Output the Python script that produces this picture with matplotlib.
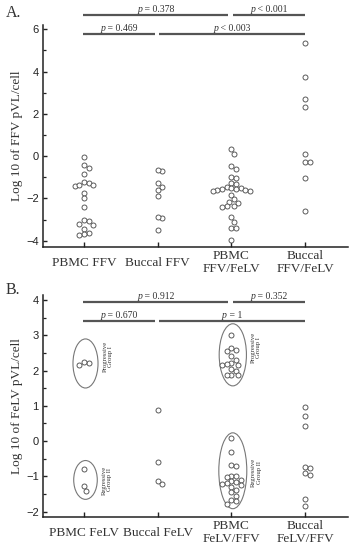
import numpy as np
import matplotlib
matplotlib.use('Agg')
import matplotlib.pyplot as plt
from matplotlib.patches import Ellipse
from matplotlib.ticker import MultipleLocator
from matplotlib.offsetbox import TextArea, HPacker, AnnotationBbox

plt.rcParams['font.family'] = ['Liberation Serif', 'DejaVu Serif']

# ---------------- data ----------------
cats_a = ['PBMC FFV', 'Buccal FFV', 'PBMC\nFFV/FeLV', 'Buccal\nFFV/FeLV']
pbmc_ffv = [-0.03, -0.42, -0.58, -0.86, -1.22, -1.25, -1.38, -1.40, -1.35, -1.73,
            -1.98, -2.40, -3.03, -3.07, -3.20, -3.25, -3.45, -3.62, -3.70, -3.75]
buccal_ffv = [-0.70, -0.64, -1.27, -1.45, -1.60, -1.88, -2.95, -2.90, -3.50]
pbmc_ffv_felv = [0.32, 0.10, -0.47, -0.62, -0.98, -1.02, -1.28, -1.32, -1.45, -1.50,
                 -1.52, -1.58, -1.62, -1.63, -1.65, -1.60, -1.55, -1.85, -2.05, -2.18,
                 -2.22, -2.35, -2.38, -2.40, -2.90, -3.12, -3.38, -3.42, -3.95]
buccal_ffv_felv = [5.33, 3.73, 2.72, 2.30, 0.12, -0.28, -0.30, -1.06, -2.62]

cats_b = ['PBMC FeLV', 'Buccal FeLV', 'PBMC\nFeLV/FFV', 'Buccal\nFeLV/FFV']
pbmc_felv_prog = [2.15, 2.22, 2.25]
pbmc_felv_reg = [-0.80, -1.28, -1.40]
buccal_felv = [0.88, -0.60, -1.13, -1.22]
pbmc_felv_ffv_prog = [3.02, 2.63, 2.55, 2.58, 2.40, 2.30, 2.22, 2.17, 2.15, 2.18,
                      2.03, 2.00, 1.88, 1.87, 1.88]
pbmc_felv_ffv_reg = [0.10, -0.30, -0.68, -0.70, -0.98, -1.00, -1.02, -1.10, -1.12,
                     -1.15, -1.20, -1.22, -1.25, -1.30, -1.38, -1.45, -1.55, -1.68,
                     -1.70, -1.78]
buccal_felv_ffv = [0.97, 0.72, 0.43, -0.73, -0.76, -0.90, -0.96, -1.65, -1.83]

# comparisons: (from group, to group, text)
comp_a_top = [(1, 3, '= 0.378'), (3, 4, '< 0.001')]
comp_a_bot = [(1, 2, '= 0.469'), (2, 4, '< 0.003')]
comp_b_top = [(1, 3, '= 0.912'), (3, 4, '= 0.352')]
comp_b_bot = [(1, 2, '= 0.670'), (2, 4, '= 1')]

# ---------------- style ----------------
W, H = 352, 550
fig = plt.figure(figsize=(W / 100, H / 100), dpi=100)
MK_EDGE = '#505050'
LINE_C = '#555555'
SPINE_C = '#222222'
TEXT_C = '#333333'


def make_axes(rect, ylim):
    ax = fig.add_axes(rect)
    ax.set_xlim(0.443, 4.584)
    ax.set_ylim(*ylim)
    for s in ['top', 'right']:
        ax.spines[s].set_visible(False)
    for s in ['left', 'bottom']:
        ax.spines[s].set_color(SPINE_C)
        ax.spines[s].set_linewidth(1.1)
    ax.tick_params(axis='y', direction='in', length=3, width=1.0, color=SPINE_C,
                   labelsize=8, pad=3, labelcolor='#222222')
    ax.tick_params(axis='y', which='minor', direction='in', length=2, width=0.9,
                   color=SPINE_C)
    ax.tick_params(axis='x', direction='in', length=3.5, width=1.0, color=SPINE_C,
                   labelsize=9.5, pad=11.2, labelcolor=TEXT_C)
    return ax


def swarm(ax, x0, vals, diam=5.0, mind=4.7):
    vals = np.asarray(vals, float)
    trans = ax.transData
    pts = trans.transform(np.column_stack([np.full(len(vals), x0), vals]))
    pyy = pts[:, 1]
    xunit = trans.transform((1, 0))[0] - trans.transform((0, 0))[0]
    placed = []
    offs = np.zeros(len(vals))
    order = np.argsort(-vals)
    for i in order:
        py = pyy[i]
        best = None
        k = 0
        while best is None:
            cands = [0.0] if k == 0 else [k * 0.5 * mind, -k * 0.5 * mind]
            for c in cands:
                ok = True
                for (qx, qy) in placed:
                    if (c - qx) ** 2 + (py - qy) ** 2 < mind ** 2:
                        ok = False
                        break
                if ok:
                    best = c
                    break
            k += 1
        placed.append((best, py))
        offs[i] = best / xunit
    ax.scatter(x0 + offs, vals, s=(diam / 1.389) ** 2, facecolor='white',
               edgecolor=MK_EDGE, linewidth=0.65, zorder=3, clip_on=False)


def comparisons(ax, rows, ys):
    for comps, y in zip(rows, ys):
        n = len(comps)
        for k, (a, b, txt) in enumerate(comps):
            x1 = a - 0.01 if k == 0 else a + 0.02
            x2 = b - 0.04 if k < n - 1 else b
            ax.plot([x1, x2], [y, y], color=LINE_C, lw=1.6, clip_on=False,
                    solid_capstyle='butt')
            tp = dict(fontsize=7, color=TEXT_C, family=['Liberation Serif'])
            box = HPacker(children=[TextArea('p', textprops=dict(style='italic', **tp)),
                                    TextArea(' ' + txt, textprops=tp)],
                          pad=0, sep=0, align='baseline')
            ab = AnnotationBbox(box, ((x1 + x2) / 2, y), xybox=(0, 1.0),
                                xycoords='data', boxcoords='offset points',
                                box_alignment=(0.5, 0.0), frameon=False, pad=0,
                                annotation_clip=False)
            ax.add_artist(ab)


def set_cats(ax, cats):
    ax.set_xticks(range(1, len(cats) + 1))
    ax.set_xticklabels(cats, linespacing=1.15)
    for lab in ax.get_xticklabels():
        lab.set_va('center')


def sans_ticks(ax):
    for lab in ax.get_yticklabels():
        lab.set_fontfamily(['Liberation Sans', 'DejaVu Sans'])


# ---------------- panel A ----------------
axA = make_axes([43 / W, 1 - 247 / H, 305 / W, 222 / H], (-4.3, 6.2))
axA.yaxis.set_major_locator(MultipleLocator(2))
axA.yaxis.set_minor_locator(MultipleLocator(1))
sans_ticks(axA)
set_cats(axA, cats_a)
for i, grp in enumerate([pbmc_ffv, buccal_ffv, pbmc_ffv_felv, buccal_ffv_felv]):
    swarm(axA, i + 1, grp)
comparisons(axA, [comp_a_top, comp_a_bot], [6.67, 5.76])
fig.text(17 / W, 1 - 136 / H, 'Log 10 of FFV pVL/cell', rotation=90, ha='center',
         va='center', fontsize=9.5, color=TEXT_C)
fig.text(6 / W, 1 - 13 / H, 'A.', ha='left', va='center', fontsize=11.5, color=TEXT_C)

# ---------------- panel B ----------------
axB = make_axes([43 / W, 1 - 517 / H, 305 / W, 222 / H], (-2.15, 4.14))
axB.yaxis.set_major_locator(MultipleLocator(1))
axB.yaxis.set_minor_locator(MultipleLocator(0.5))
sans_ticks(axB)
set_cats(axB, cats_b)
swarm(axB, 1, pbmc_felv_prog)
swarm(axB, 1, pbmc_felv_reg)
swarm(axB, 2, buccal_felv)
swarm(axB, 3, pbmc_felv_ffv_prog)
swarm(axB, 3, pbmc_felv_ffv_reg)
swarm(axB, 4, buccal_felv_ffv)
comparisons(axB, [comp_b_top, comp_b_bot], [3.94, 3.40])

groups = [(1, pbmc_felv_prog, 'Progressive\nGroup I', 0.34, 1.39, 0.19),
          (1, pbmc_felv_reg, 'Regressive\nGroup II', 0.32, 1.10, 0.0),
          (3, pbmc_felv_ffv_prog, 'Progressive\nGroup I', 0.37, 1.76, 0.2),
          (3, pbmc_felv_ffv_reg, 'Regressive\nGroup II', 0.38, 2.15, -0.05)]
for xc, vals, label, ew, eh, toff in groups:
    yc = (max(vals) + min(vals)) / 2
    axB.add_patch(Ellipse((xc + 0.02, yc), ew, eh, facecolor='none',
                          edgecolor='#777777', lw=0.8, zorder=2))
    axB.text(xc + 0.02 + ew / 2 + 0.13, yc + toff, label, rotation=90, ha='center',
             va='center', fontsize=4.8, color=TEXT_C, multialignment='center',
             linespacing=1.1)

fig.text(17 / W, 1 - 406 / H, 'Log 10 of FeLV pVL/cell', rotation=90, ha='center',
         va='center', fontsize=9.5, color=TEXT_C)
fig.text(6 / W, 1 - 290 / H, 'B.', ha='left', va='center', fontsize=11.5, color=TEXT_C)

fig.savefig('out.png', dpi=100)
